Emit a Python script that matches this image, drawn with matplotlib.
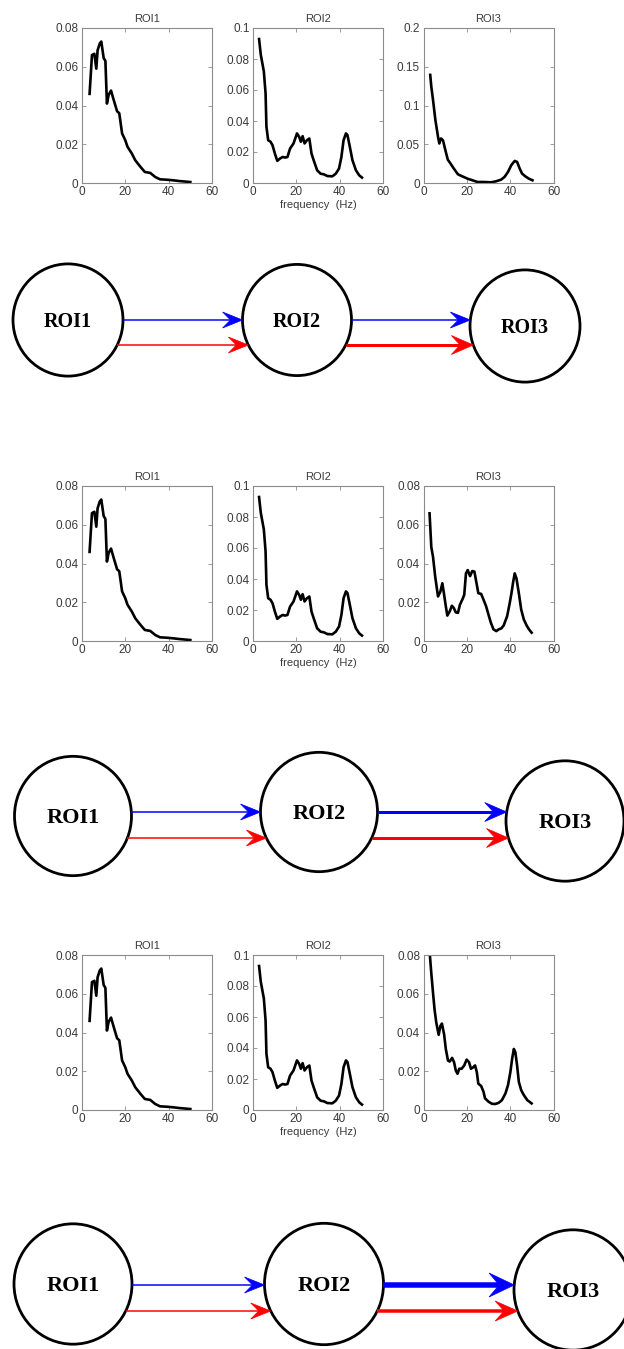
import numpy as np
import matplotlib
matplotlib.use('Agg')
import matplotlib.pyplot as plt
from matplotlib.patches import Ellipse, Polygon
from matplotlib.ticker import FormatStrFormatter

plt.rcParams['font.family'] = ['Liberation Sans', 'DejaVu Sans']

# ---- spectra data (frequency in Hz, power) ----
f_roi1 = [3.5, 4.6, 5.7, 6.6, 7.2, 8.2, 8.9, 10, 10.8, 11.5, 12.3, 13.4, 14.6, 16.2,
          17.2, 18.5, 20, 21, 23, 24.6, 27, 29, 31.5, 33.8, 36, 39, 42, 45, 50]
p_roi1 = [0.046, 0.066, 0.0667, 0.059, 0.0685, 0.072, 0.073, 0.0645, 0.063, 0.041,
          0.0455, 0.0477, 0.043, 0.037, 0.036, 0.0256, 0.022, 0.0187, 0.0152, 0.0117,
          0.0083, 0.0057, 0.0052, 0.0031, 0.0019, 0.0017, 0.0014, 0.001, 0.0005]

f_roi2 = [2.8, 3.6, 5, 5.8, 6.2, 7, 8.1, 9, 10.1, 11.2, 12.5, 13.7, 14.8, 15.9, 17.1,
          18.7, 20.3, 21.3, 22.1, 22.9, 23.8, 24.9, 26, 27, 28, 29.6, 31.2, 32.7, 34.3,
          36.6, 38.2, 39.7, 40.8, 41.8, 42.9, 43.6, 44.7, 45.9, 47.5, 49, 50.3]
p_roi2 = [0.0929, 0.0827, 0.072, 0.0579, 0.0363, 0.0276, 0.0266, 0.0244, 0.019, 0.0143,
          0.0158, 0.0168, 0.0164, 0.0168, 0.0222, 0.0255, 0.032, 0.0298, 0.0266, 0.0302,
          0.0255, 0.0276, 0.0287, 0.019, 0.0147, 0.0082, 0.006, 0.0056, 0.0045, 0.0043,
          0.006, 0.0093, 0.0168, 0.0276, 0.032, 0.0309, 0.0233, 0.0147, 0.0082, 0.005,
          0.0035]

f_roi3_a = [3.1, 3.6, 4.4, 5.5, 6.7, 7.3, 8.1, 9, 10.1, 11.2, 12.5, 14, 15.9, 17.9, 20.3,
            22.6, 24.9, 28, 31.2, 33.5, 35.8, 37.4, 39, 40.5, 42.1, 43.2, 44.4, 45.5, 47,
            48.6, 50.3]
p_roi3_a = [0.1395, 0.1244, 0.107, 0.081, 0.0596, 0.051, 0.0575, 0.055, 0.0423, 0.0302,
            0.025, 0.0186, 0.0112, 0.0086, 0.0056, 0.0035, 0.0013, 0.0013, 0.0009, 0.0022,
            0.0043, 0.0078, 0.0143, 0.0229, 0.0285, 0.0272, 0.0186, 0.0121, 0.0086, 0.0056,
            0.0035]

f_roi3_b = [2.8, 3.6, 4.4, 5.4, 6.7, 7.8, 8.7, 9.3, 10.3, 11, 12.1, 13.1, 14, 14.9, 15.9,
            16.8, 18, 18.8, 19.6, 20.4, 21.5, 22.5, 23.5, 24.2, 25.3, 26.6, 27.7, 28.9, 30,
            31.1, 32.3, 33.6, 34.7, 35.9, 37, 38.6, 39.8, 40.6, 41.4, 42.1, 42.9, 44, 45.1,
            46.3, 47.6, 48.7, 49.9]
p_roi3_b = [0.0659, 0.0485, 0.0434, 0.0332, 0.023, 0.0255, 0.0298, 0.0255, 0.0179, 0.0131,
            0.0153, 0.0182, 0.017, 0.0148, 0.0145, 0.0187, 0.0216, 0.0238, 0.0349, 0.0366,
            0.0335, 0.0361, 0.0358, 0.0315, 0.0247, 0.0243, 0.0213, 0.0179, 0.0136, 0.0094,
            0.006, 0.0051, 0.006, 0.0065, 0.008, 0.0128, 0.0196, 0.0247, 0.0306, 0.0349,
            0.0323, 0.0247, 0.0162, 0.0111, 0.008, 0.006, 0.0043]

f_roi3_c = [2.8, 3.6, 4.4, 5.1, 5.9, 7, 7.8, 8.5, 9.5, 10.3, 11.3, 12.1, 13.2, 14.1, 14.9,
            15.7, 16.5, 17.6, 18.8, 19.9, 21, 21.9, 23, 23.8, 24.6, 25.3, 26.6, 27.7, 28.4,
            30, 31.6, 33.1, 34.7, 36.2, 37.8, 39, 40.1, 40.9, 41.7, 42.4, 43.2, 44, 45.1,
            46.3, 47.9, 49.9]
p_roi3_c = [0.082, 0.0706, 0.0604, 0.0519, 0.0451, 0.0388, 0.0434, 0.0446, 0.0391, 0.0315,
            0.0255, 0.025, 0.0269, 0.0247, 0.0204, 0.0187, 0.0213, 0.0213, 0.023, 0.026,
            0.0247, 0.0213, 0.0221, 0.023, 0.0196, 0.0136, 0.0124, 0.0094, 0.006, 0.0043,
            0.0032, 0.0031, 0.0037, 0.0051, 0.0085, 0.0128, 0.0196, 0.0264, 0.0315, 0.0298,
            0.023, 0.0145, 0.0102, 0.0077, 0.0051, 0.0034]

roi_names = ['ROI1', 'ROI2', 'ROI3']
rows = [
    [(f_roi1, p_roi1, 0.08, 0.02), (f_roi2, p_roi2, 0.1, 0.02), (f_roi3_a, p_roi3_a, 0.2, 0.05)],
    [(f_roi1, p_roi1, 0.08, 0.02), (f_roi2, p_roi2, 0.1, 0.02), (f_roi3_b, p_roi3_b, 0.08, 0.02)],
    [(f_roi1, p_roi1, 0.08, 0.02), (f_roi2, p_roi2, 0.1, 0.02), (f_roi3_c, p_roi3_c, 0.08, 0.02)],
]
xticks = [0, 20, 40, 60]

# ---- network edges: (source, target, colour, width in px) ----
edges = [
    [(0, 1, 'blue', 1.5), (0, 1, 'red', 1.5), (1, 2, 'blue', 1.5), (1, 2, 'red', 3.0)],
    [(0, 1, 'blue', 1.5), (0, 1, 'red', 1.5), (1, 2, 'blue', 3.0), (1, 2, 'red', 3.0)],
    [(0, 1, 'blue', 1.5), (0, 1, 'red', 1.5), (1, 2, 'blue', 5.5), (1, 2, 'red', 3.5)],
]

W, H = 624, 1349
fig = plt.figure(figsize=(W / 100, H / 100), dpi=100)
fig.patch.set_facecolor('white')

def px_axes(left, top, width, height):
    return fig.add_axes([left / W, 1 - (top + height) / H, width / W, height / H])

grey = '#8c8c8c'
txt = '#3a3a3a'
ax_lefts = [82, 253, 423.5]
row_tops = [28, 486, 955]

for r, row in enumerate(rows):
    for c, (f, p, ymax, ystep) in enumerate(row):
        ax = px_axes(ax_lefts[c], row_tops[r], 130, 155)
        ax.plot(f, p, color='black', lw=1.9)
        ax.set_xlim(0, 60)
        ax.set_ylim(0, ymax)
        ax.set_xticks(xticks)
        ax.set_yticks(np.arange(0, ymax + ystep / 2, ystep))
        ax.yaxis.set_major_formatter(FormatStrFormatter('%g'))
        ax.tick_params(direction='in', length=3, width=0.6, color=grey, labelcolor=txt,
                       labelsize=8.5, top=True, right=True, pad=2.5)
        for s in ax.spines.values():
            s.set_color(grey)
            s.set_linewidth(0.8)
        ax.set_title(roi_names[c], fontsize=8, color=txt, pad=4)
        if c == 1:
            ax.set_xlabel('frequency  (Hz)', fontsize=8, color=txt, labelpad=1)

# ---- network diagrams in pixel coordinates ----
net = fig.add_axes([0, 0, 1, 1])
net.set_xlim(0, W)
net.set_ylim(H, 0)
net.axis('off')
net.patch.set_visible(False)
net.set_zorder(-1)

nodes = [
    [(68, 320, 55), (297, 320, 54.5), (525, 326, 55)],
    [(73, 816, 58.5), (319, 812, 58.5), (565, 821, 59)],
    [(73, 1284, 59), (324, 1284, 59.5), (573, 1290, 59)],
]
arrow_y = [(320, 345), (812, 838), (1285, 1311)]
label_size = [14.5, 16, 16]

def edge_x(cx, cy, rad, y, side):
    dy = (y - cy) / 1.02
    return cx + side * rad * np.sqrt(max(0.0, 1 - (dy / rad) ** 2))

for r in range(3):
    for i, (cx, cy, rad) in enumerate(nodes[r]):
        net.add_patch(Ellipse((cx, cy), 2 * rad, 2 * rad * 1.02, fill=False, ec='black', lw=2.0))
        net.text(cx, cy + 2, roi_names[i], ha='center', va='center', fontsize=label_size[r],
                 fontweight='bold', family='Liberation Serif')
    for s, t, col, wpx in edges[r]:
        y = arrow_y[r][0] if col == 'blue' else arrow_y[r][1]
        sx, sy, sr = nodes[r][s]
        tx, ty, tr = nodes[r][t]
        x0 = edge_x(sx, sy, sr, y, 1)
        x1 = edge_x(tx, ty, tr, y, -1)
        L = 18 + 1.3 * wpx
        hw = 6.5 + 1.0 * wpx
        notch = 0.4 * L
        net.plot([x0, x1 - L + notch + 1], [y, y], color=col, lw=wpx * 0.72,
                 solid_capstyle='butt')
        net.add_patch(Polygon([(x1, y), (x1 - L, y - hw), (x1 - L + notch, y),
                               (x1 - L, y + hw)], closed=True, fc=col, ec=col, lw=0.5))

fig.savefig('out.png', dpi=100, facecolor='white')
